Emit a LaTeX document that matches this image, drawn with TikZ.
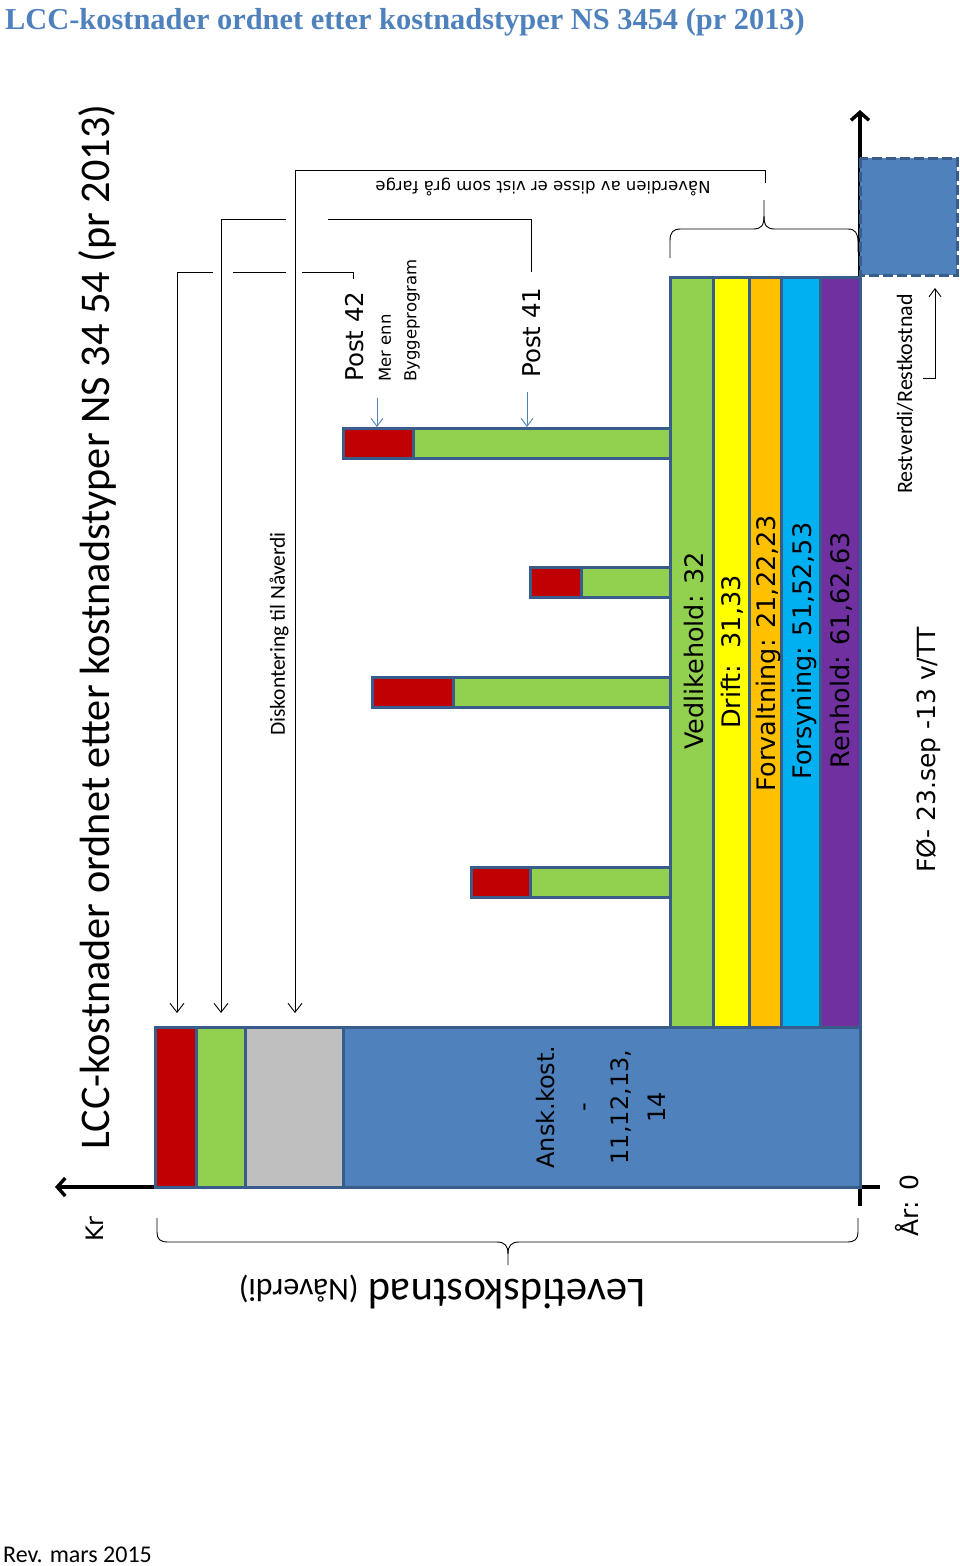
\documentclass[tikz,border=0pt]{standalone}
\usepackage{fontspec}
\setmainfont{Carlito}
\newfontfamily\verdfont{DejaVu Sans}
\newfontfamily\headfont{Liberation Serif}
\usepackage{xcolor}
\usepackage{tikz}
\usetikzlibrary{arrows.meta,calc}
\definecolor{LCCblue}{HTML}{4F81BD}
\definecolor{LCCedge}{HTML}{385D8A}
\definecolor{LCCred}{HTML}{C00000}
\definecolor{LCCgreen}{HTML}{92D050}
\definecolor{LCCyellow}{HTML}{FFFF00}
\definecolor{LCCorange}{HTML}{FFC000}
\definecolor{LCCcyan}{HTML}{00B0F0}
\definecolor{LCCpurple}{HTML}{7030A0}
\definecolor{LCCgray}{HTML}{BFBFBF}
\tikzset{
  costbar/.style={draw=LCCedge, line width=3pt},
  axisline/.style={line width=3.4pt, draw=black},
  axisarr/.style={axisline, -{Straight Barb[length=8pt, width=18pt]}},
  thinline/.style={line width=0.9pt, draw=black},
  pilarr/.style={thinline, -{Straight Barb[length=9pt, width=14pt]}},
  postarr/.style={line width=0.9pt, draw=LCCblue, -{Straight Barb[length=8pt, width=12pt]}},
  barlabel/.style={rotate=90, inner sep=0pt, font=\verdfont\fontsize{25.5}{27}\selectfont},
  sidelabel/.style={rotate=90, inner sep=0pt}
}

\begin{document}
\begin{tikzpicture}[x=1pt, y=-1pt]
  \useasboundingbox (0,0) rectangle (960,1566);
  \node[anchor=base west, inner sep=0pt, text=LCCblue, font=\headfont\bfseries\fontsize{30.4}{33}\selectfont] (title) at (5,29) {LCC-kostnader ordnet etter kostnadstyper NS 3454 (pr 2013)};
  \node[anchor=base west, inner sep=0pt, font=\fontsize{24}{26}\selectfont] (rev) at (3,1562) {Rev. mars 2015};

  \coordinate (origo) at (860,1187);
  \coordinate (krStart) at (155,1187);
  \coordinate (krTip) at (55,1187);
  \coordinate (tickEnd) at (880,1187);
  \coordinate (yrBottom) at (860,1206);
  \coordinate (yrTip) at (860,110);
  \draw[axisarr] (krStart) -- (krTip);
  \draw[axisline] (origo) -- (tickEnd);
  \draw[axisarr] (yrBottom) -- (yrTip);

  \coordinate (a1) at (353,279); \coordinate (a2) at (353,272); \coordinate (a3) at (302,272);
  \coordinate (a4) at (286,272); \coordinate (a5) at (233,272);
  \coordinate (a6) at (213,272); \coordinate (a7) at (177,272); \coordinate (tRed) at (177,1013);
  \coordinate (b1) at (531,272); \coordinate (b2) at (531,219); \coordinate (b3) at (328,219);
  \coordinate (b4) at (286,219); \coordinate (b5) at (221,219); \coordinate (tGreen) at (221,1013);
  \coordinate (c1) at (765,183); \coordinate (c2) at (765,170); \coordinate (c3) at (295,170);
  \coordinate (tGray) at (295,1013);
  \draw[pilarr] (a1) -- (a2) -- (a3) (a4) -- (a5) (a6) -- (a7) -- (tRed);
  \draw[pilarr] (b1) -- (b2) -- (b3) (b4) -- (b5) -- (tGreen);
  \draw[pilarr] (c1) -- (c2) -- (c3) -- (tGray);

  \draw[thinline] (670,258) -- (670,241) .. controls (670,232) and (673,229) .. (681,229) -- (753,229)
    .. controls (761,229) and (764,226) .. (764,216) -- (764,200);
  \draw[thinline] (764,216) .. controls (764,226) and (767,229) .. (775,229) -- (848,229)
    .. controls (855,229) and (858,233) .. (858,242) -- (858,252);
  \draw[thinline] (157,1218) -- (157,1232) .. controls (157,1239) and (160,1242) .. (168,1242) -- (497,1242)
    .. controls (505,1242) and (508,1246) .. (508,1254) -- (508,1265);
  \draw[thinline] (508,1254) .. controls (508,1246) and (511,1242) .. (519,1242) -- (847,1242)
    .. controls (855,1242) and (858,1239) .. (858,1232) -- (858,1218);

  \draw[LCCedge, fill=LCCblue, line width=3pt, dash pattern=on 10pt off 4pt] (860,158) rectangle (957,275);

  \foreach \xa/\xb/\col in {670/713/LCCgreen, 713/749/LCCyellow, 749/781/LCCorange, 781/820/LCCcyan, 820/860/LCCpurple}
    \draw[costbar, fill=\col] (\xa,277) rectangle (\xb,1027);
  \foreach \ya/\xa/\xm in {428/343/413, 567/530/581, 677/372/453, 867/471/530} {
    \draw[costbar, fill=LCCred] (\xa,\ya) rectangle (\xm,\ya+30);
    \draw[costbar, fill=LCCgreen] (\xm,\ya) rectangle (670,\ya+30);
  }
  \draw[costbar, fill=LCCblue] (155,1027) rectangle (860,1187);
  \draw[costbar, fill=LCCred] (155,1027) rectangle (196,1187);
  \draw[costbar, fill=LCCgreen] (196,1027) rectangle (245,1187);
  \draw[costbar, fill=LCCgray] (245,1027) rectangle (343,1187);

  \node[barlabel] (vedl) at (694,651) {Vedlikehold: 32};
  \node[barlabel] (drift) at (732,652) {Drift:\ \ 31,33};
  \node[barlabel] (forv) at (768,653) {Forvaltning: 21,22,23};
  \node[barlabel] (fors) at (804,651) {Forsyning: 51,52,53};
  \node[barlabel] (renh) at (841,650) {Renhold: 61,62,63};
  \node[rotate=90, align=center, inner sep=0pt, font=\verdfont\fontsize{24}{37}\selectfont] (ansk) at (601,1107) {Ansk.kost.\\-\\11,12,13,\\14};

  \node[sidelabel, anchor=west, font=\verdfont\fontsize{24.5}{26}\selectfont] (post42) at (355,382) {Post 42};
  \node[sidelabel, anchor=west, font=\verdfont\fontsize{16.5}{18}\selectfont] (merenn) at (385,382) {Mer enn};
  \node[sidelabel, anchor=west, font=\verdfont\fontsize{16.5}{18}\selectfont] (bygg) at (412,382) {Byggeprogram};
  \node[sidelabel, anchor=west, font=\verdfont\fontsize{24.5}{26}\selectfont] (post41) at (532,378) {Post 41};
  \coordinate (p42s) at (377,398); \coordinate (p42t) at (377,427);
  \coordinate (p41s) at (527,392); \coordinate (p41t) at (527,427);
  \draw[postarr] (p42s) -- (p42t);
  \draw[postarr] (p41s) -- (p41t);

  \node[sidelabel, font=\fontsize{42.3}{45}\selectfont] (lcc) at (97,627) {LCC-kostnader ordnet etter kostnadstyper NS 34 54 (pr 2013)};
  \node[sidelabel, font=\fontsize{21.5}{23}\selectfont] (disk) at (279,634) {Diskontering til Nåverdi};
  \node[rotate=180, inner sep=0pt, font=\verdfont\fontsize{16.5}{18}\selectfont] (naaverdi) at (543,187) {Nåverdien av disse er vist som grå farge};
  \node[rotate=180, inner sep=0pt] (levetid) at (442,1292) {\fontsize{42.5}{44}\selectfont Levetidskostnad {\fontsize{32}{34}\selectfont(Nåverdi)}};

  \node[sidelabel, font=\fontsize{22}{24}\selectfont] (rest) at (905,394) {Restverdi/Restkostnad};
  \coordinate (r1) at (923,378); \coordinate (r2) at (935,378); \coordinate (r3) at (935,288);
  \draw[pilarr, -{Straight Barb[length=8pt, width=12pt]}] (r1) -- (r2) -- (r3);
  \node[sidelabel, font=\verdfont\fontsize{25}{27}\selectfont] (fo) at (929,750) {FØ- 23.sep -13 v/TT};
  \node[sidelabel, font=\verdfont\fontsize{25}{27}\selectfont] (aar) at (907,1206) {År: 0};
  \node[sidelabel, font=\verdfont\fontsize{24}{26}\selectfont] (kr) at (95,1229) {Kr};
\end{tikzpicture}
\end{document}
